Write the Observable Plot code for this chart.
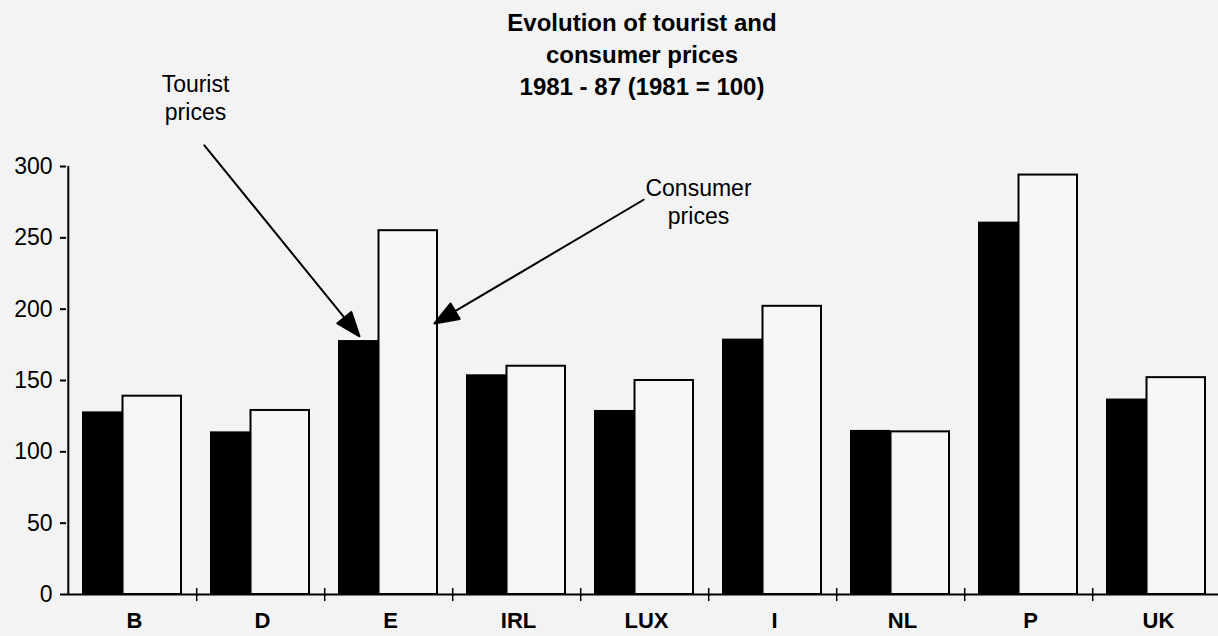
<!DOCTYPE html>
<html><head><meta charset="utf-8">
<script src="https://cdn.jsdelivr.net/npm/d3@7"></script>
<script src="https://cdn.jsdelivr.net/npm/@observablehq/plot@0.6"></script>
<style>
body{margin:0;background:#f3f3f3;}
#wrap{position:relative;width:1218px;height:636px;overflow:hidden;font-family:"Liberation Sans",Arial,sans-serif;}
#title{position:absolute;left:0;width:1284px;top:7px;text-align:center;font-weight:bold;font-size:24px;line-height:32px;color:#000;z-index:2;}
#chart{position:absolute;left:0;top:0;}
</style></head><body>
<div id="wrap"><div id="chart"></div><div id="title">Evolution of tourist and<br>consumer prices<br>1981 - 87 (1981 = 100)</div></div>
<script>
const countries = ["B", "D", "E", "IRL", "LUX", "I", "NL", "P", "UK"];
const tourist = [128, 114, 178, 154, 129, 179, 115, 261, 137];
const consumer = [139, 129, 255, 160, 150, 202, 114, 294, 152];
const yTicks = [0, 50, 100, 150, 200, 250, 300];

const touristRows = countries.map((c, i) => ({country: c, value: tourist[i]}));
const consumerRows = countries.map((c, i) => ({country: c, value: consumer[i]}));

// annotation anchors (data units)
const tNote = [{x: "B", y: 366, text: "Tourist\nprices"}];
const cNote = [{x: "LUX", y: 293, text: "Consumer\nprices"}];
const tArrow = [{x: "E", y: 181}];
const cArrow = [{x: "E", y: 190}];

const arrowShape = {
  draw(context, l) {
    const h = 24, w = 9;
    context.moveTo(0, 0);
    context.lineTo(0, -l + h);
    context.moveTo(0, -l);
    context.lineTo(-w, -l + h);
    context.lineTo(w, -l + h);
    context.closePath();
  }
};

const font = "'Liberation Sans', Arial, sans-serif";
const step = 128.4;

const chart = Plot.plot({
  width: 1218,
  height: 636,
  marginLeft: 66,
  marginRight: 0,
  marginTop: 166,
  marginBottom: 42,
  style: {background: "transparent", fontFamily: font, fontSize: "22px", color: "#000", overflow: "visible"},
  x: {domain: countries, range: [66, 66 + 9 * step], padding: 0, axis: null},
  y: {domain: [0, 300], axis: null},
  marks: [
    Plot.barY(touristRows, {x: "country", y: "value", fill: "#000", insetLeft: 14, insetRight: step - 54.5}),
    Plot.barY(consumerRows, {x: "country", y: "value", fill: "#f6f6f6", stroke: "#000", strokeWidth: 2, insetLeft: 54.5, insetRight: 15}),
    Plot.ruleY([0], {stroke: "#000", strokeWidth: 2}),
    Plot.ruleX([countries[0]], {dx: -step / 2, y1: 0, y2: 300, stroke: "#000", strokeWidth: 2}),
    Plot.ruleX(countries, {x: d => d, dx: step / 2, y1: 0, y2: 0, insetTop: -6, insetBottom: -7, stroke: "#000", strokeWidth: 1.5}),
    Plot.axisY({ticks: yTicks, tickSize: 6, tickPadding: 8, fontSize: 23, strokeWidth: 2, fontFamily: font}),
    Plot.axisX({tickSize: 0, tickPadding: 18, fontSize: 22, fontWeight: "bold", fontFamily: font, dx: 2}),
    Plot.text(tNote, {x: "x", y: "y", text: "text", dx: 63, lineAnchor: "top", fontSize: 23, lineHeight: 1.2, fontFamily: font}),
    Plot.text(cNote, {x: "x", y: "y", text: "text", dx: 54, lineAnchor: "top", fontSize: 23, lineHeight: 1.2, fontFamily: font}),
    Plot.vector(tArrow, {x: "x", y: "y", length: 246, rotate: 140.9, anchor: "end", dx: -29, shape: arrowShape, stroke: "#000", fill: "#000", strokeWidth: 2}),
    Plot.vector(cArrow, {x: "x", y: "y", length: 243, rotate: -120.6, anchor: "end", dx: 46, shape: arrowShape, stroke: "#000", fill: "#000", strokeWidth: 2})
  ]
});
document.getElementById("chart").appendChild(chart);
</script>
</body></html>
